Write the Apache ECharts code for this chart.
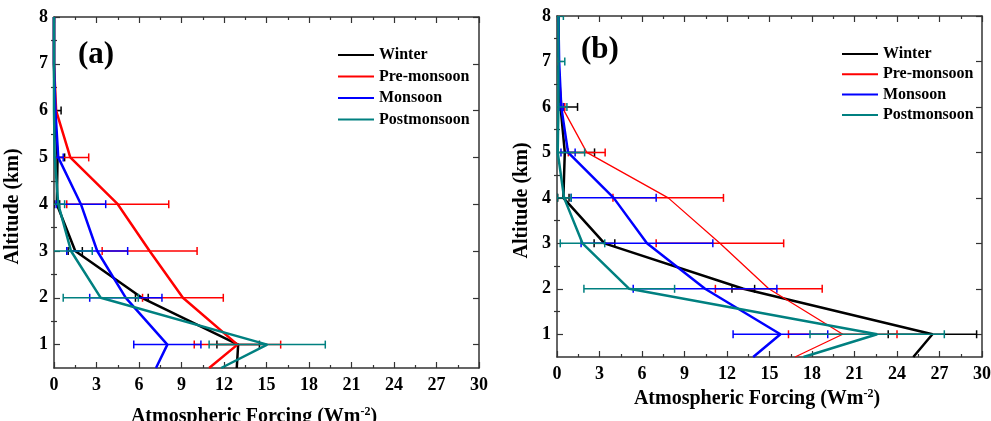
<!DOCTYPE html>
<html>
<head>
<meta charset="utf-8">
<script src="https://cdn.jsdelivr.net/npm/echarts@6/dist/echarts.min.js"></script>
<style>
html,body{margin:0;padding:0;background:#fff;}
#chart{width:991px;height:421px;}
</style>
</head>
<body>
<div id="chart"></div>
<script>
// ---- data ----
const altitudes = [8, 7, 6, 5, 4, 3, 2, 1, 0.5];
const seasons = ['Winter', 'Pre-monsoon', 'Monsoon', 'Postmonsoon'];
const xTickValues = [0, 3, 6, 9, 12, 15, 18, 21, 24, 27, 30];
const yTickValues = [1, 2, 3, 4, 5, 6, 7, 8];
const yMinorValues = [1.5, 2.5, 3.5, 4.5, 5.5, 6.5, 7.5];

// Panel (a)
const winterA = [0, 0, 0.05, 0.25, 0.2, 1.5, 6.2, 13.0, 12.9];
const winterAErr = [0, 0, 0.45, 0.5, 0.2, 0.5, 0.45, 1.5, null];
const premonA = [0, 0, 0.15, 1.15, 4.5, 6.75, 9.1, 12.95, 10.95];
const premonAErr = [0, 0, 0, 1.3, 3.6, 3.35, 2.85, 3.05, null];
const monA = [0, 0, 0.1, 0.3, 1.9, 3.05, 5.07, 8.0, 7.2];
const monAErr = [0, 0, 0, 0.35, 1.75, 2.15, 2.55, 2.37, null];
const postA = [0, 0, 0, 0.05, 0.3, 1.2, 3.3, 15.05, 11.8];
const postAErr = [0, 0, 0, 0, 0.45, 1.5, 2.65, 4.1, null];

// Panel (b)
const winterB = [0.1, 0.1, 0.25, 0.55, 0.45, 3.35, 13.15, 26.5, 25.15];
const winterBErr = [0, 0, 1.2, 2.1, 0.4, 0.73, 0.8, 3.12, null];
const premonB = [0.05, 0.1, 0.35, 2.1, 7.85, 11.5, 14.95, 20.17, 16.8];
const premonBErr = [0, 0.05, 0.2, 1.3, 3.9, 4.5, 3.77, 3.83, null];
const monB = [0.1, 0.15, 0.3, 0.78, 4.0, 6.35, 10.45, 15.77, 13.85];
const monBErr = [0, 0, 0.15, 0.5, 3.0, 4.65, 5.07, 3.34, null];
const postB = [0.1, 0.1, 0.1, 0.05, 0.5, 1.8, 5.1, 22.6, 17.4];
const postBErr = [0.35, 0.45, 0.6, 1.9, 0.5, 1.57, 3.2, 4.74, null];

const colors = ['#000000', '#ff0000', '#0000ff', '#008080'];
const FONT = 'Liberation Serif';
const AX = '#333';

const chart = echarts.init(document.getElementById('chart'), null, {renderer: 'canvas'});

function xAxes(gi, nameGap) {
  const base = {
    gridIndex: gi, type: 'value', min: 0, max: 30, interval: 3,
    axisLine: {show: true, onZero: false, lineStyle: {color: AX, width: 1.5}},
    axisTick: {show: true, inside: true, length: 6, lineStyle: {color: AX, width: 1.2}},
    minorTick: {show: true, splitNumber: 2, length: 3, lineStyle: {color: AX, width: 1.2}},
    splitLine: {show: false}
  };
  return [
    Object.assign({}, base, {
      position: 'bottom',
      axisLabel: {show: true, margin: 8, color: '#000', fontFamily: FONT, fontWeight: 'bold', fontSize: 18},
      name: 'Atmospheric Forcing (Wm{sup|-2})',
      nameLocation: 'middle', nameGap: nameGap,
      nameTextStyle: {
        color: '#000', fontFamily: FONT, fontWeight: 'bold', fontSize: 20, padding: [0, 25, 0, 0],
        rich: {sup: {fontFamily: FONT, fontWeight: 'bold', fontSize: 12, verticalAlign: 'top', padding: [0, 0, 10, 0]}}
      }
    }),
    Object.assign({}, base, {position: 'top', axisLabel: {show: false}})
  ];
}

function yAxes(gi, nameGap) {
  const base = {
    gridIndex: gi, type: 'value', min: 0.5, max: 8,
    splitLine: {show: false}
  };
  return [
    Object.assign({}, base, {
      position: 'left',
      axisLine: {show: true, onZero: false, lineStyle: {color: AX, width: 1.5}},
      axisTick: {show: true, inside: true, length: 6, customValues: yTickValues, lineStyle: {color: AX, width: 1.2}},
      axisLabel: {show: true, customValues: yTickValues, margin: 6, color: '#000', fontFamily: FONT, fontWeight: 'bold', fontSize: 18},
      name: 'Altitude (km)', nameLocation: 'middle', nameGap: nameGap, nameRotate: 90,
      nameTextStyle: {color: '#000', fontFamily: FONT, fontWeight: 'bold', fontSize: 20, padding: [0, 28, 0, 0]}
    }),
    Object.assign({}, base, {
      position: 'right',
      axisLine: {show: true, onZero: false, lineStyle: {color: AX, width: 1.5}},
      axisTick: {show: true, inside: true, length: 6, customValues: yTickValues, lineStyle: {color: AX, width: 1.2}},
      axisLabel: {show: false}
    }),
    Object.assign({}, base, {
      position: 'left',
      axisLine: {show: false},
      axisTick: {show: true, inside: true, length: 3, customValues: yMinorValues, lineStyle: {color: AX, width: 1.2}},
      axisLabel: {show: false}
    }),
    Object.assign({}, base, {
      position: 'right',
      axisLine: {show: false},
      axisTick: {show: true, inside: true, length: 3, customValues: yMinorValues, lineStyle: {color: AX, width: 1.2}},
      axisLabel: {show: false}
    })
  ];
}

function errRender(color) {
  return function (params, api) {
    const v = api.value(0), a = api.value(1), e = api.value(2);
    const p1 = api.coord([v - e, a]);
    const p2 = api.coord([v + e, a]);
    const h = 4;
    const st = {stroke: color, lineWidth: 1.5};
    return {
      type: 'group',
      children: [
        {type: 'line', shape: {x1: p1[0], y1: p1[1], x2: p2[0], y2: p2[1]}, style: st},
        {type: 'line', shape: {x1: p1[0], y1: p1[1] - h, x2: p1[0], y2: p1[1] + h}, style: st},
        {type: 'line', shape: {x1: p2[0], y1: p2[1] - h, x2: p2[0], y2: p2[1] + h}, style: st}
      ]
    };
  };
}

function panelSeries(prefix, xIdx, yIdx, vals, errs, widths) {
  const out = [];
  vals.forEach((arr, i) => {
    out.push({
      type: 'line', name: prefix + seasons[i], xAxisIndex: xIdx, yAxisIndex: yIdx,
      data: arr.map((v, k) => [v, altitudes[k]]),
      symbol: 'none', smooth: false, clip: true,
      lineStyle: {color: colors[i], width: widths[i]},
      itemStyle: {color: colors[i]},
      z: 2 + i
    });
    const ed = [];
    arr.forEach((v, k) => { if (errs[i][k] !== null && errs[i][k] > 0) ed.push([v, altitudes[k], errs[i][k]]); });
    out.push({
      type: 'custom', name: prefix + seasons[i] + '_err', xAxisIndex: xIdx, yAxisIndex: yIdx,
      data: ed, clip: true, renderItem: errRender(colors[i]), z: 2 + i
    });
  });
  return out;
}

const legendText = {color: '#000', fontFamily: FONT, fontWeight: 'bold', fontSize: 16};

const option = {
  animation: false,
  backgroundColor: '#fff',
  grid: [
    {left: 54, right: 512, top: 17, bottom: 53, outerBoundsMode: 'none', containLabel: false},
    {left: 557, right: 9, top: 16, bottom: 64, outerBoundsMode: 'none', containLabel: false}
  ],
  title: [
    {text: '(a)', left: 78, top: 39, padding: 0, textStyle: {fontFamily: FONT, fontWeight: 'bold', fontSize: 31, color: '#000'}},
    {text: '(b)', left: 581, top: 34, padding: 0, textStyle: {fontFamily: FONT, fontWeight: 'bold', fontSize: 31, color: '#000'}}
  ],
  legend: [
    {data: seasons.map(s => 'a:' + s), formatter: n => n.slice(2), orient: 'vertical', left: 337, top: 47,
     itemWidth: 36, itemHeight: 14, itemGap: 5.5, selectedMode: false, padding: 0, textStyle: legendText,
     itemStyle: {opacity: 0}},
    {data: seasons.map(s => 'b:' + s), formatter: n => n.slice(2), orient: 'vertical', left: 841, top: 46,
     itemWidth: 36, itemHeight: 14, itemGap: 4.3, selectedMode: false, padding: 0, textStyle: legendText,
     itemStyle: {opacity: 0}}
  ],
  xAxis: [].concat(xAxes(0, 38), xAxes(1, 31)),
  yAxis: [].concat(yAxes(0, 31), yAxes(1, 25)),
  series: [].concat(
    panelSeries('a:', 0, 0, [winterA, premonA, monA, postA], [winterAErr, premonAErr, monAErr, postAErr], [2.5, 2.5, 2.5, 2.5]),
    panelSeries('b:', 2, 4, [winterB, premonB, monB, postB], [winterBErr, premonBErr, monBErr, postBErr], [2.5, 1.3, 2.5, 2.5])
  )
};
chart.setOption(option);
</script>
</body>
</html>
